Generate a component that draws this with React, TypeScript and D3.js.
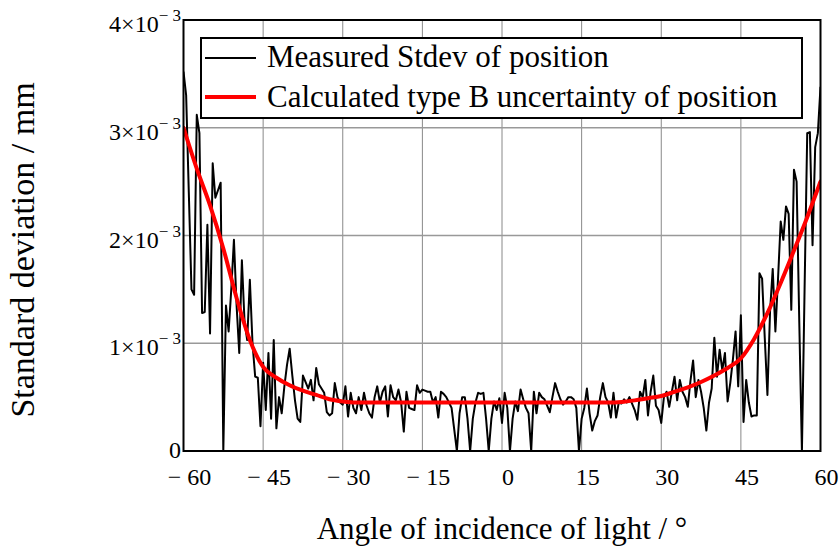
import React from 'react';
import * as d3 from 'd3';

// measured stdev, 0.5 degree steps from -60 to 60, units of 1e-3 mm
const measured = [
  3.52, 3.30, 2.40, 1.50, 1.45, 3.12, 2.95, 1.28, 1.29, 2.10,
  1.09, 2.67, 2.35, 2.42, 2.49, 0.00, 1.35, 1.11, 1.50, 1.96,
  1.35, 0.91, 1.77, 1.20, 1.03, 1.59, 1.00, 0.69, 0.68, 0.23,
  0.82, 0.38, 0.91, 0.30, 1.03, 0.21, 0.50, 0.35, 0.60, 0.80,
  0.95, 0.70, 0.47, 0.30, 0.27, 0.70, 0.64, 0.58, 0.66, 0.47,
  0.77, 0.62, 0.58, 0.54, 0.36, 0.33, 0.35, 0.63, 0.50, 0.45,
  0.43, 0.60, 0.32, 0.54, 0.40, 0.35, 0.50, 0.38, 0.54, 0.42,
  0.35, 0.31, 0.50, 0.60, 0.45, 0.55, 0.60, 0.32, 0.61, 0.50,
  0.47, 0.57, 0.45, 0.18, 0.55, 0.40, 0.39, 0.38, 0.61, 0.54,
  0.57, 0.56, 0.55, 0.55, 0.45, 0.50, 0.31, 0.55, 0.53, 0.50,
  0.45, 0.40, 0.20, 0.00, 0.35, 0.50, 0.50, 0.30, 0.00, 0.30,
  0.45, 0.54, 0.53, 0.54, 0.30, 0.00, 0.30, 0.46, 0.38, 0.49,
  0.26, 0.54, 0.40, 0.00, 0.30, 0.46, 0.37, 0.57, 0.48, 0.40,
  0.35, 0.00, 0.55, 0.35, 0.54, 0.50, 0.48, 0.42, 0.36, 0.50,
  0.63, 0.55, 0.48, 0.43, 0.46, 0.50, 0.50, 0.48, 0.40, 0.00,
  0.30, 0.40, 0.58, 0.35, 0.19, 0.28, 0.33, 0.50, 0.63, 0.50,
  0.45, 0.31, 0.54, 0.31, 0.45, 0.44, 0.48, 0.45, 0.50, 0.44,
  0.38, 0.29, 0.55, 0.50, 0.66, 0.33, 0.55, 0.70, 0.42, 0.38,
  0.26, 0.50, 0.55, 0.41, 0.55, 0.69, 0.47, 0.66, 0.55, 0.50,
  0.41, 0.65, 0.84, 0.50, 0.66, 0.55, 0.40, 0.19, 0.45, 0.58,
  1.05, 0.69, 0.94, 0.75, 0.91, 0.46, 0.63, 0.85, 1.11, 0.60,
  1.26, 0.27, 0.66, 0.45, 0.32, 0.33, 0.33, 1.65, 1.60, 1.05,
  0.52, 1.30, 1.69, 1.11, 1.60, 2.13, 1.96, 2.27, 2.20, 1.31,
  2.61, 2.50, 1.20, 0.00, 1.50, 2.95, 2.96, 1.91, 2.82, 2.95,
  3.38,
];

// calculated type B uncertainty, sampled every 2.5 degrees (-60 .. 60)
const calcAngles = d3.range(-60, 60.01, 2.5);
const calculated = [
  3.00, 2.62, 2.28, 1.88, 1.42, 1.03, 0.78, 0.68, 0.61, 0.56, // -60 .. -37.5
  0.52, 0.48, 0.46, 0.45, 0.45, 0.45, 0.45, 0.45, 0.45, 0.45, // -35 .. -12.5
  0.45, 0.45, 0.45, 0.45, 0.45, 0.45, 0.45, 0.45, 0.45, 0.45, // -10 .. 12.5
  0.45, 0.45, 0.45, 0.455, 0.47, 0.49, 0.51, 0.55, 0.59, 0.64, // 15 .. 37.5
  0.70, 0.77, 0.86, 1.04, 1.28, 1.56, 1.86, 2.17, 2.50,        // 40 .. 60
];

const xTicks = [-60, -45, -30, -15, 0, 15, 30, 45, 60];
const yTicks = [0, 1, 2, 3, 4];
const legendLabels = ['Measured Stdev of position', 'Calculated type B uncertainty of position'];

const font = 'Liberation Serif';

const App = () => {
  const left = 183.5, right = 820.5, top = 20, bottom = 451;
  const x = d3.scaleLinear().domain([-60, 60]).range([left, right]);
  const y = d3.scaleLinear().domain([0, 4]).range([bottom, top]);

  const measuredPts = measured.map((v, i) => [-60 + i * 0.5, v] as [number, number]);
  const calcPts = calculated.map((v, i) => [calcAngles[i], v] as [number, number]);

  const measuredPath = d3.line<[number, number]>().x(d => x(d[0])).y(d => y(d[1]))(measuredPts);
  const calcPath = d3.line<[number, number]>().x(d => x(d[0])).y(d => y(d[1])).curve(d3.curveMonotoneX)(calcPts);

  const fmtX = (d: number) => (d < 0 ? `\u2212 ${-d}` : `${d}`);

  return (
    <svg width={840} height={550} style={{ position: 'absolute', left: 0, top: 0, background: '#fff' }}>
      <defs>
        <clipPath id="plotClip">
          <rect x={left} y={top} width={right - left} height={bottom - top} />
        </clipPath>
      </defs>

      {/* grid */}
      {xTicks.slice(1, -1).map(t => (
        <line key={'gx' + t} x1={x(t)} x2={x(t)} y1={top} y2={bottom} stroke="#888" strokeWidth={1} />
      ))}
      {yTicks.slice(1, -1).map(t => (
        <line key={'gy' + t} x1={left} x2={right} y1={y(t)} y2={y(t)} stroke="#999" strokeWidth={1.5} />
      ))}

      <g clipPath="url(#plotClip)">
        <path d={measuredPath || ''} fill="none" stroke="#000" strokeWidth={2} strokeLinejoin="round" />
        <path d={calcPath || ''} fill="none" stroke="#ff0000" strokeWidth={4} strokeLinecap="round" />
      </g>

      {/* legend */}
      <rect x={201} y={38} width={601} height={80} fill="#fff" stroke="#000" strokeWidth={2} />
      <line x1={205} x2={256} y1={58} y2={58} stroke="#000" strokeWidth={2} />
      <line x1={205} x2={256} y1={97} y2={97} stroke="#ff0000" strokeWidth={4} />
      <text x={267} y={67} fontFamily={font} fontSize={31} fill="#000">{legendLabels[0]}</text>
      <text x={267} y={107} fontFamily={font} fontSize={31} fill="#000">{legendLabels[1]}</text>

      {/* frame */}
      <rect x={left} y={top} width={right - left} height={bottom - top} fill="none" stroke="#000" strokeWidth={2} />

      {/* x tick labels */}
      {xTicks.map(t => (
        <text key={'tx' + t} x={x(t) + 6} y={485} fontFamily={font} fontSize={24} textAnchor="middle" fill="#000">{fmtX(t)}</text>
      ))}

      {/* y tick labels */}
      {yTicks.map(t => (
        <text key={'ty' + t} x={181} y={y(t) + (t === 0 ? 7 : 12)} fontFamily={font} fontSize={24} textAnchor="end" fill="#000">
          {t === 0 ? '0' : (
            <>
              {`${t}\u00d710`}
              <tspan fontSize={17} dy={-11}>{'\u2212 3'}</tspan>
            </>
          )}
        </text>
      ))}

      <text x={(left + right) / 2} y={539} fontFamily={font} fontSize={31} textAnchor="middle" fill="#000">
        Angle of incidence of light / °
      </text>
      <text transform={`translate(34,250) rotate(-90)`} fontFamily={font} fontSize={34} textAnchor="middle" fill="#000">
        Standard deviation / mm
      </text>
    </svg>
  );
};

export default App;
